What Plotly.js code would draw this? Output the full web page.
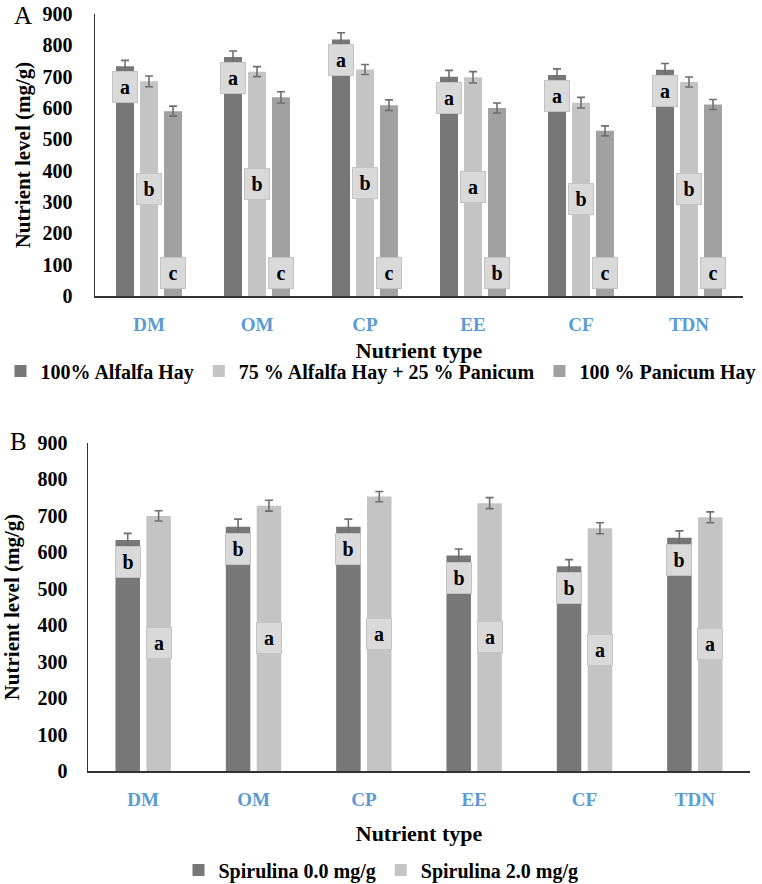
<!DOCTYPE html>
<html>
<head>
<meta charset="utf-8">
<script src="https://cdn.plot.ly/plotly-3.0.1.min.js"></script>
<style>
  html, body { margin: 0; padding: 0; background: #ffffff; }
  #chart { width: 762px; height: 884px; }
</style>
</head>
<body>
<div id="chart"></div>
<script>
// Nutrient categories (shared by both panels)
const nutrients = ['DM', 'OM', 'CP', 'EE', 'CF', 'TDN'];

// Panel A: hay diets (mg/g)
const alfalfa100Name = '100% Alfalfa Hay';
const alfalfa75Name = '75 % Alfalfa Hay + 25 % Panicum';
const panicum100Name = '100 % Panicum Hay';
const alfalfa100 = [733, 763, 819, 700, 705, 722];
const alfalfa75 = [685, 716, 723, 698, 617, 683];
const panicum100 = [590, 634, 609, 600, 527, 611];
const alfalfa100Err = [19, 19, 21, 20, 20, 20];
const alfalfa75Err = [17, 16, 16, 18, 17, 16];
const panicum100Err = [16, 18, 17, 16, 16, 16];
const alfalfa100Grp = ['a', 'a', 'a', 'a', 'a', 'a'];
const alfalfa75Grp = ['b', 'b', 'b', 'a', 'b', 'b'];
const panicum100Grp = ['c', 'c', 'c', 'b', 'c', 'c'];

// Panel B: Spirulina supplementation (mg/g)
const spir0Name = 'Spirulina 0.0 mg/g';
const spir2Name = 'Spirulina 2.0 mg/g';
const spir0 = [634, 670, 670, 591, 562, 640];
const spir2 = [700, 728, 753, 735, 666, 696];
const spir0Err = [18, 21, 21, 18, 18, 19];
const spir2Err = [14, 15, 14, 15, 15, 15];
const spir0Grp = ['b', 'b', 'b', 'b', 'b', 'b'];
const spir2Grp = ['a', 'a', 'a', 'a', 'a', 'a'];

// ---- styling ----
const SERIF = '"Liberation Serif", "Times New Roman", Times, serif';
const DARK = '#777777', LIGHT = '#c4c4c4', MID = '#a1a1a1';
const ERR_COLOR = '#6e6e6e';
const AXIS_COLOR = '#333333';
const CAT_BLUE = '#5B9BD5';

const W = 762, H = 884;
const px = v => v / W;          // horizontal pixel -> paper
const py = v => 1 - v / H;      // vertical pixel -> paper

// bar geometry (category units): [centre offset, width]
const geoA = [[-0.2222, 0.1667], [0, 0.1667], [0.2222, 0.1667]];
const geoB = [[-0.14, 0.222], [0.14, 0.222]];

function barTrace(name, y, err, color, geo, xa, ya, legend) {
  return {
    type: 'bar', name: name, x: nutrients, y: y,
    xaxis: xa, yaxis: ya, legend: legend,
    offset: geo[0] - geo[1] / 2, width: geo[1],
    marker: { color: color, line: { width: 0 } },
    error_y: { type: 'data', array: err, symmetric: true, visible: true,
               color: ERR_COLOR, thickness: 1.6, width: 4 },
    hoverinfo: 'x+y'
  };
}

const traces = [
  barTrace(alfalfa100Name, alfalfa100, alfalfa100Err, DARK, geoA[0], 'x', 'y', 'legend'),
  barTrace(alfalfa75Name, alfalfa75, alfalfa75Err, LIGHT, geoA[1], 'x', 'y', 'legend'),
  barTrace(panicum100Name, panicum100, panicum100Err, MID, geoA[2], 'x', 'y', 'legend'),
  barTrace(spir0Name, spir0, spir0Err, DARK, geoB[0], 'x2', 'y2', 'legend2'),
  barTrace(spir2Name, spir2, spir2Err, LIGHT, geoB[1], 'x2', 'y2', 'legend2')
];

// significance letters in small grey boxes
const annotations = [];
function letterBox(letter, xPos, yPos, xa, ya, yanchor, yshift) {
  annotations.push({
    xref: xa, yref: ya, x: xPos, y: yPos, text: '<b>' + letter + '</b>',
    showarrow: false, xanchor: 'center', yanchor: yanchor, yshift: yshift,
    font: { family: SERIF, size: 20, color: '#000' },
    bgcolor: '#d9d9d9', bordercolor: '#c3c3c3', borderwidth: 1, borderpad: 1,
    width: 22, height: 28, align: 'center', valign: 'middle'
  });
}
nutrients.forEach((n, i) => {
  // A: top of bar / middle of bar / base of bar
  letterBox(alfalfa100Grp[i], i + geoA[0][0], alfalfa100[i], 'x', 'y', 'top', -5);
  letterBox(alfalfa75Grp[i], i + geoA[1][0], alfalfa75[i] / 2, 'x', 'y', 'middle', 0);
  letterBox(panicum100Grp[i], i + geoA[2][0], 0, 'x', 'y', 'bottom', 7);
  // B: top of bar / middle of bar
  letterBox(spir0Grp[i], i + geoB[0][0], spir0[i], 'x2', 'y2', 'top', -6);
  letterBox(spir2Grp[i], i + geoB[1][0], spir2[i] / 2, 'x2', 'y2', 'middle', 0);
});

// panel tags
annotations.push({ xref: 'paper', yref: 'paper', x: px(12), y: py(15), xanchor: 'left', yanchor: 'middle',
  text: 'A', showarrow: false, font: { family: SERIF, size: 25, color: '#000' } });
annotations.push({ xref: 'paper', yref: 'paper', x: px(8), y: py(441), xanchor: 'left', yanchor: 'middle',
  text: 'B', showarrow: false, font: { family: SERIF, size: 25, color: '#000' } });

function xAxis(domain, anchor, standoff) {
  return {
    domain: domain, anchor: anchor, type: 'category',
    showline: true, linecolor: AXIS_COLOR, linewidth: 2,
    ticks: '', showgrid: false, zeroline: false, fixedrange: true,
    tickfont: { family: SERIF, size: 19, color: CAT_BLUE, weight: 'bold' },
    ticklabelstandoff: 10,
    title: { text: '<b>Nutrient type</b>', font: { family: SERIF, size: 22, color: '#000' }, standoff: standoff }
  };
}
function yAxis(domain, anchor, standoff, tstand) {
  return {
    domain: domain, anchor: anchor, range: [0, 900], tick0: 0, dtick: 100,
    showline: true, linecolor: AXIS_COLOR, linewidth: 1.5,
    ticks: '', showgrid: false, zeroline: false, fixedrange: true,
    tickfont: { family: SERIF, size: 20, color: '#000', weight: 'bold' },
    ticklabelstandoff: tstand,
    title: { text: '<b>Nutrient level (mg/g)</b>', font: { family: SERIF, size: 21, color: '#000' }, standoff: standoff }
  };
}

const layout = {
  width: W, height: H,
  margin: { l: 0, r: 0, t: 0, b: 0, pad: 0, autoexpand: false },
  paper_bgcolor: '#ffffff', plot_bgcolor: '#ffffff',
  barmode: 'overlay',
  font: { family: SERIF, color: '#000' },
  xaxis: xAxis([px(95), px(743)], 'y', 9),
  yaxis: yAxis([py(296), py(14)], 'x', 6, 17),
  xaxis2: xAxis([px(88), px(750)], 'y2', 17),
  yaxis2: yAxis([py(771), py(443)], 'x2', 18, 15),
  legend: {
    orientation: 'h', x: 0.5, xanchor: 'center', y: py(371), yanchor: 'middle',
    font: { family: SERIF, size: 20, color: '#000', weight: 'bold' },
    bgcolor: 'rgba(0,0,0,0)', traceorder: 'normal'
  },
  legend2: {
    orientation: 'h', x: 0.5, xanchor: 'center', y: py(870), yanchor: 'middle',
    font: { family: SERIF, size: 20, color: '#000', weight: 'bold' },
    bgcolor: 'rgba(0,0,0,0)', traceorder: 'normal'
  },
  annotations: annotations,
  showlegend: true
};

Plotly.newPlot('chart', traces, layout, { displayModeBar: false, staticPlot: true });
</script>
</body>
</html>
